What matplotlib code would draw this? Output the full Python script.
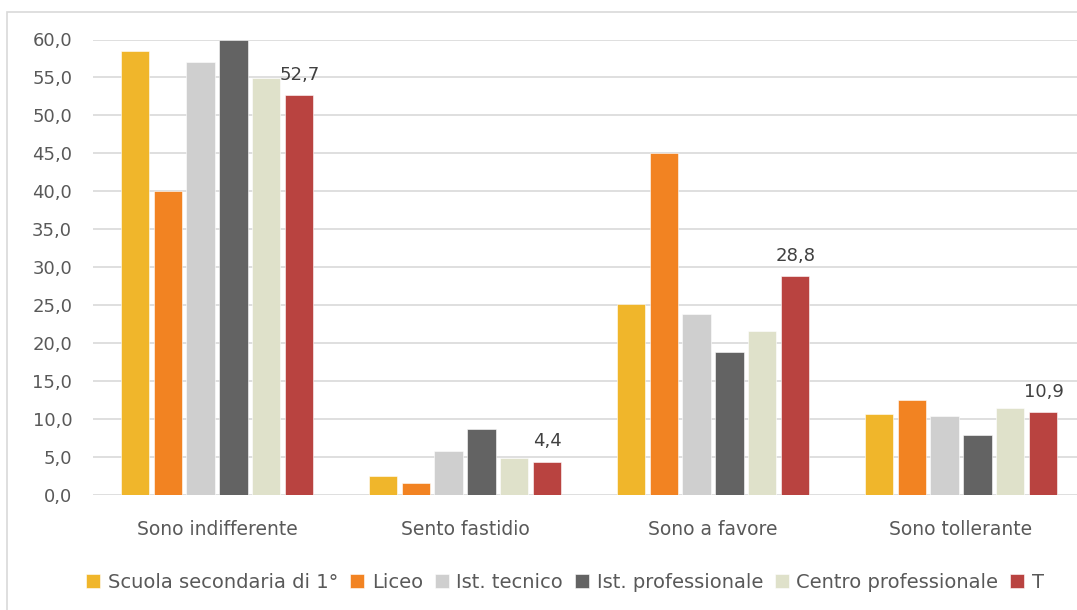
import numpy as np
import matplotlib
matplotlib.use('Agg')
import matplotlib.pyplot as plt
from matplotlib.patches import Rectangle
from matplotlib.ticker import FuncFormatter, MultipleLocator

# Categories and series
categories = ['Sono indifferente', 'Sento fastidio', 'Sono a favore', 'Sono tollerante']
series_names = ['Scuola secondaria di 1°', 'Liceo', 'Ist. tecnico',
                'Ist. professionale', 'Centro professionale', 'T']
scuola = [58.5, 2.5, 25.2, 10.7]
liceo = [40.0, 1.6, 45.1, 12.5]
tecnico = [57.0, 5.8, 23.9, 10.4]
professionale = [60.0, 8.7, 18.9, 7.9]
centro = [54.9, 4.9, 21.6, 11.5]
totale = [52.7, 4.4, 28.8, 10.9]

series = [scuola, liceo, tecnico, professionale, centro, totale]
colors = ['#F0B62B', '#F28322', '#CFCFCF', '#636363', '#DFE1CA', '#B94340']

plt.rcParams['font.family'] = ['DejaVu Sans']
text_color = '#595959'

fig = plt.figure(figsize=(10.77, 6.10), dpi=100)
W, H = 1077, 610
ax = fig.add_axes([93 / W, 1 - 495 / H, (1085 - 93) / W, (495 - 39.5) / H])

x = np.arange(len(categories))
pitch = 0.133
width = 0.113
for i, (vals, col, name) in enumerate(zip(series, colors, series_names)):
    offs = (i - 2.5) * pitch
    bars = ax.bar(x + offs, vals, width, color=col, label=name, zorder=3,
                  edgecolor='white', linewidth=0.4)
    if name == 'T':
        for b, v in zip(bars, vals):
            ax.text(b.get_x() + b.get_width() / 2, v + 1.5,
                    f'{v:.1f}'.replace('.', ','), ha='center', va='bottom',
                    fontsize=13, color='#404040')

ax.set_xlim(-0.5, 3.5)
ax.set_ylim(0, 60)
ax.yaxis.set_major_locator(MultipleLocator(5))
ax.yaxis.set_major_formatter(FuncFormatter(lambda v, p: f'{v:.1f}'.replace('.', ',')))
ax.grid(axis='y', color='#D9D9D9', linewidth=1.2, zorder=0)
ax.set_axisbelow(True)
for s in ax.spines.values():
    s.set_visible(False)
ax.set_xticks(x)
ax.set_xticklabels(categories, fontsize=13.5)
ax.tick_params(axis='both', length=0, labelcolor=text_color)
ax.tick_params(axis='y', labelsize=13, pad=15)
ax.tick_params(axis='x', pad=18)

# Outer chart border
fig.patches.append(Rectangle((7 / W, -0.05), 2, 1 - 12 / H + 0.05,
                             transform=fig.transFigure, fill=False,
                             edgecolor='#D9D9D9', linewidth=1.2))

fig.legend(loc='center', bbox_to_anchor=(565 / W, 1 - 582 / H), ncol=6,
           frameon=False, fontsize=14, handlelength=0.72, handleheight=0.72,
           handletextpad=0.4, columnspacing=0.6, labelcolor=text_color)

fig.savefig('out.png', dpi=100)
